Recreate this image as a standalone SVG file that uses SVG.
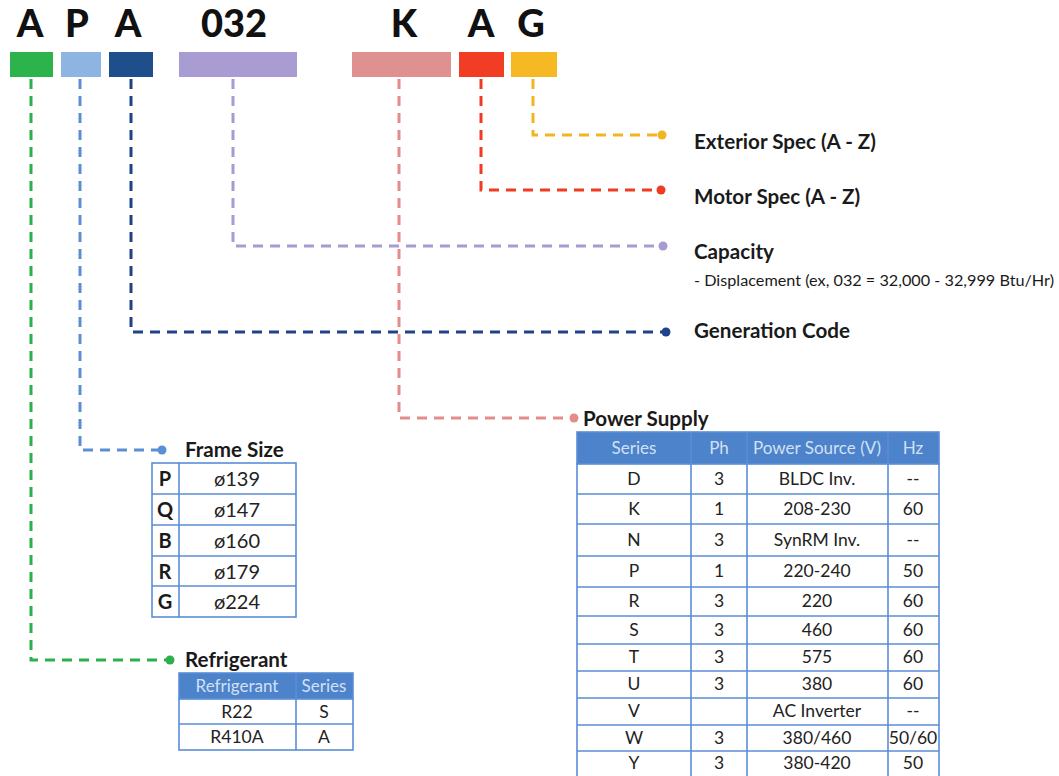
<svg xmlns="http://www.w3.org/2000/svg" width="1059" height="776" viewBox="0 0 1059 776">
<style>
.code{font-family:Lato,"Open Sans",sans-serif;font-weight:900;font-size:38px;fill:#111;text-anchor:middle}
.lbl{font-family:Lato,"Open Sans",sans-serif;font-weight:700;font-size:20.6px;fill:#1a1a1a}
.sub{font-family:Lato,"Open Sans",sans-serif;font-size:15.5px;fill:#1a1a1a}
.cell{font-family:Lato,"Open Sans",sans-serif;font-size:17.5px;fill:#222;text-anchor:middle}
.cellb{font-family:Lato,"Open Sans",sans-serif;font-weight:700;font-size:20px;fill:#1a1a1a;text-anchor:middle}
.hdr{font-family:Lato,"Open Sans",sans-serif;font-size:17px;fill:#d3e0f3;text-anchor:middle}
.grid{fill:#fff;stroke:#5b8dd6;stroke-width:1.6}
.gl{stroke:#5b8dd6;stroke-width:1.6}
.hfill{fill:#4c83cb;stroke:#5b8dd6;stroke-width:1.6}
.con{fill:none;stroke-width:3;stroke-dasharray:10 7}
</style>
<rect width="1059" height="776" fill="#fff"/>

<g id="code-letters">
<text class="code" x="30" y="37">A</text>
<text class="code" x="77" y="37">P</text>
<text class="code" x="128" y="37">A</text>
<text class="code" x="234" y="37">032</text>
<text class="code" x="404" y="37">K</text>
<text class="code" x="481" y="37">A</text>
<text class="code" x="531" y="37">G</text>
</g>

<g id="bars">
<rect x="10" y="52" width="43" height="25" fill="#2cb34c"/>
<rect x="61" y="52" width="40" height="25" fill="#8eb4e2"/>
<rect x="109" y="52" width="44" height="25" fill="#1f4e8d"/>
<rect x="179" y="52" width="118" height="25" fill="#a99cd3"/>
<rect x="352" y="52" width="99" height="25" fill="#df9090"/>
<rect x="459" y="52" width="45" height="25" fill="#f03d24"/>
<rect x="511" y="52" width="46" height="25" fill="#f6b823"/>
</g>

<g id="connectors">
<path class="con" stroke="#2bb04b" d="M31,79 V660 H166"/>
<circle cx="170" cy="660" r="4.5" fill="#2bb04b"/>
<path class="con" stroke="#5a8fd6" d="M80,79 V450 H158"/>
<circle cx="162" cy="450" r="4.5" fill="#5a8fd6"/>
<path class="con" stroke="#a89bd1" d="M233,79 V246 H659"/>
<circle cx="663" cy="246" r="4.5" fill="#a89bd1"/>
<path class="con" stroke="#e38c8c" d="M399,79 V418 H570"/>
<circle cx="574" cy="418" r="4.5" fill="#e38c8c"/>
<path class="con" stroke="#1f4288" d="M131,79 V332 H662"/>
<circle cx="666" cy="332" r="4.5" fill="#1f4288"/>
<path class="con" stroke="#ef3b22" d="M481,79 V190 H657"/>
<circle cx="661" cy="190" r="4.5" fill="#ef3b22"/>
<path class="con" stroke="#f2b51f" d="M533,79 V135 H658"/>
<circle cx="662" cy="135" r="4.5" fill="#f2b51f"/>
</g>

<g id="exterior-spec">
<text class="lbl" x="694" y="149">Exterior Spec (A - Z)</text>
</g>
<g id="motor-spec">
<text class="lbl" x="694" y="204">Motor Spec (A - Z)</text>
</g>
<g id="capacity">
<text class="lbl" x="694" y="259">Capacity</text>
<text class="sub" x="694" y="286" textLength="360" lengthAdjust="spacingAndGlyphs">- Displacement (ex, 032 = 32,000 - 32,999 Btu/Hr)</text>
</g>
<g id="generation-code">
<text class="lbl" x="694" y="338">Generation Code</text>
</g>

<g id="frame-size">
<text class="lbl" x="185" y="457">Frame Size</text>
<rect class="grid" x="152" y="463" width="144" height="154"/>
<line class="gl" x1="179" y1="463" x2="179" y2="617"/>
<line class="gl" x1="152" y1="494" x2="296" y2="494"/>
<line class="gl" x1="152" y1="525" x2="296" y2="525"/>
<line class="gl" x1="152" y1="556" x2="296" y2="556"/>
<line class="gl" x1="152" y1="586" x2="296" y2="586"/>
<text class="cellb" x="165" y="486">P</text><text class="cell" x="237" y="486" style="font-size:20px">ø139</text>
<text class="cellb" x="165" y="517">Q</text><text class="cell" x="237" y="517" style="font-size:20px">ø147</text>
<text class="cellb" x="165" y="548">B</text><text class="cell" x="237" y="548" style="font-size:20px">ø160</text>
<text class="cellb" x="165" y="579">R</text><text class="cell" x="237" y="579" style="font-size:20px">ø179</text>
<text class="cellb" x="165" y="609">G</text><text class="cell" x="237" y="609" style="font-size:20px">ø224</text>
</g>

<g id="refrigerant">
<text class="lbl" x="185" y="667">Refrigerant</text>
<rect class="hfill" x="179" y="673" width="174" height="26"/>
<rect class="grid" x="179" y="699" width="174" height="51"/>
<line class="gl" x1="296" y1="673" x2="296" y2="750"/>
<line class="gl" x1="179" y1="724" x2="353" y2="724"/>
<text class="hdr" x="237" y="692">Refrigerant</text>
<text class="hdr" x="324" y="692">Series</text>
<text class="cell" x="237" y="718">R22</text><text class="cell" x="324" y="718">S</text>
<text class="cell" x="237" y="743">R410A</text><text class="cell" x="324" y="743">A</text>
</g>

<g id="power-supply">
<text class="lbl" x="583" y="426">Power Supply</text>
<rect class="hfill" x="577" y="432" width="362" height="32"/>
<rect class="grid" x="577" y="464" width="362" height="314"/>
<line class="gl" x1="691" y1="432" x2="691" y2="778"/>
<line class="gl" x1="747" y1="432" x2="747" y2="778"/>
<line class="gl" x1="888" y1="432" x2="888" y2="778"/>
<line class="gl" x1="577" y1="494" x2="939" y2="494"/>
<line class="gl" x1="577" y1="524" x2="939" y2="524"/>
<line class="gl" x1="577" y1="556" x2="939" y2="556"/>
<line class="gl" x1="577" y1="587" x2="939" y2="587"/>
<line class="gl" x1="577" y1="616" x2="939" y2="616"/>
<line class="gl" x1="577" y1="644" x2="939" y2="644"/>
<line class="gl" x1="577" y1="671" x2="939" y2="671"/>
<line class="gl" x1="577" y1="698" x2="939" y2="698"/>
<line class="gl" x1="577" y1="725" x2="939" y2="725"/>
<line class="gl" x1="577" y1="751" x2="939" y2="751"/>
<text class="hdr" x="634" y="454">Series</text>
<text class="hdr" x="719" y="454">Ph</text>
<text class="hdr" x="817" y="454">Power Source (V)</text>
<text class="hdr" x="913" y="454">Hz</text>
<text class="cell" x="634" y="485">D</text><text class="cell" x="719" y="485">3</text><text class="cell" x="817" y="485">BLDC Inv.</text><text class="cell" x="913" y="485">--</text>
<text class="cell" x="634" y="515">K</text><text class="cell" x="719" y="515">1</text><text class="cell" x="817" y="515">208-230</text><text class="cell" x="913" y="515">60</text>
<text class="cell" x="634" y="546">N</text><text class="cell" x="719" y="546">3</text><text class="cell" x="817" y="546">SynRM Inv.</text><text class="cell" x="913" y="546">--</text>
<text class="cell" x="634" y="577">P</text><text class="cell" x="719" y="577">1</text><text class="cell" x="817" y="577">220-240</text><text class="cell" x="913" y="577">50</text>
<text class="cell" x="634" y="607">R</text><text class="cell" x="719" y="607">3</text><text class="cell" x="817" y="607">220</text><text class="cell" x="913" y="607">60</text>
<text class="cell" x="634" y="636">S</text><text class="cell" x="719" y="636">3</text><text class="cell" x="817" y="636">460</text><text class="cell" x="913" y="636">60</text>
<text class="cell" x="634" y="663">T</text><text class="cell" x="719" y="663">3</text><text class="cell" x="817" y="663">575</text><text class="cell" x="913" y="663">60</text>
<text class="cell" x="634" y="690">U</text><text class="cell" x="719" y="690">3</text><text class="cell" x="817" y="690">380</text><text class="cell" x="913" y="690">60</text>
<text class="cell" x="634" y="717">V</text><text class="cell" x="817" y="717">AC Inverter</text><text class="cell" x="913" y="717">--</text>
<text class="cell" x="634" y="744">W</text><text class="cell" x="719" y="744">3</text><text class="cell" x="817" y="744">380/460</text><text class="cell" x="913" y="744">50/60</text>
<text class="cell" x="634" y="769">Y</text><text class="cell" x="719" y="769">3</text><text class="cell" x="817" y="769">380-420</text><text class="cell" x="913" y="769">50</text>
</g>
</svg>
